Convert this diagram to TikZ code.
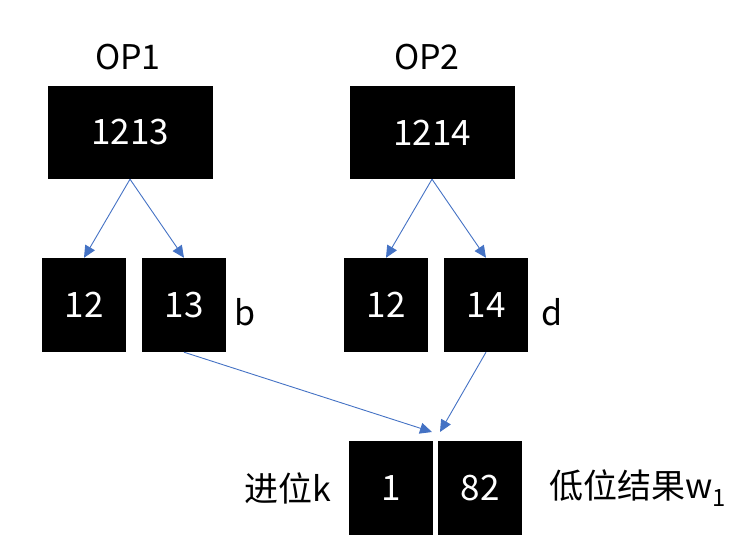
\documentclass[tikz,border=0pt]{standalone}
\usepackage{fontspec}
\setmainfont{Noto Sans CJK SC}
\usetikzlibrary{arrows.meta}
\definecolor{arrowblue}{RGB}{68,114,196}
\tikzset{
  box/.style={fill=black, text=white, inner sep=0pt, font=\fontsize{35}{35}\selectfont},
  bigbox/.style={box, minimum width=165pt, minimum height=93pt},
  smallbox/.style={box, minimum width=84pt, minimum height=94pt},
  lbl/.style={inner sep=0pt, font=\fontsize{34}{34}\selectfont},
  conn/.style={draw=arrowblue, line width=0.9pt, -{Triangle[length=12pt,width=11pt]}, arrowblue}
}
\begin{document}
\begin{tikzpicture}[x=1pt,y=-1pt]
\useasboundingbox (0,0) rectangle (750,548);
\node[lbl] (op1) at (128,57) {OP1};
\node[lbl] (op2) at (427,57) {OP2};
\node[bigbox] (a) at (130,132.5) {1213};
\node[bigbox] (c) at (432,132.5) {1214};
\node[smallbox] (a1) at (84,305) {12};
\node[smallbox] (a2) at (184,305) {13};
\node[smallbox] (c1) at (386,305) {12};
\node[smallbox] (c2) at (486,305) {14};
\node[lbl] (b) at (245,312) {b};
\node[lbl] (d) at (552,312) {d};
\node[smallbox] (k) at (391,488) {1};
\node[smallbox] (w) at (480,488) {82};
\node[lbl] (kl) at (288,488) {进位k};
\node[lbl, anchor=west] (wl) at (549,488) {低位结果w\textsubscript{1}};
\coordinate (t1) at (432,432);
\coordinate (t2) at (440,432);
\draw[conn] (a.south) -- (a1.north);
\draw[conn] (a.south) -- (a2.north);
\draw[conn] (c.south) -- (c1.north);
\draw[conn] (c.south) -- (c2.north);
\draw[conn] (a2.south) -- (t1);
\draw[conn] (c2.south) -- (t2);
\end{tikzpicture}
\end{document}
